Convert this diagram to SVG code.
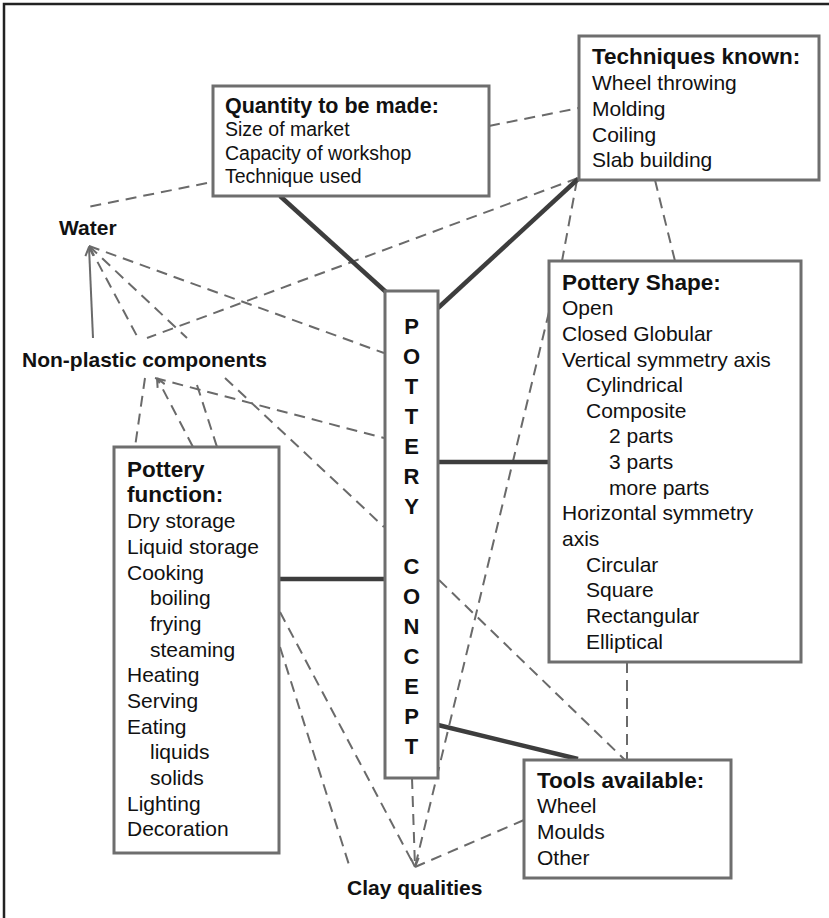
<svg xmlns="http://www.w3.org/2000/svg" width="829" height="918" viewBox="0 0 829 918">
<style>
text{font-family:"Liberation Sans",Arial,sans-serif;fill:#111}
.t{font-weight:bold;font-size:22.5px}
.i{font-size:21px}
.q{font-size:19.5px}
.lb{font-weight:bold;font-size:21px}
.c{font-weight:bold;font-size:22px;text-anchor:middle}
.box{fill:#fff;stroke:#6e6e6e;stroke-width:3}
.d{stroke:#6a6a6a;stroke-width:2;stroke-dasharray:11 7;fill:none}
.s{stroke:#6a6a6a;stroke-width:2;fill:none}
.k{stroke:#3d3d3d;stroke-width:4.5;fill:none}
</style>
<defs>
<marker id="ar" viewBox="0 0 10 10" refX="10" refY="5" markerWidth="10" markerHeight="10" markerUnits="userSpaceOnUse" orient="auto">
<path d="M1,1 L10,5 L1,9" fill="none" stroke="#6a6a6a" stroke-width="2"/>
</marker>
</defs>
<rect x="0" y="0" width="829" height="918" fill="#fff"/>
<rect x="4" y="4" width="840" height="930" fill="none" stroke="#222" stroke-width="2.5"/>
<g id="connectors">
<line class="d" x1="207" y1="183" x2="88" y2="207"/>
<line class="d" x1="489" y1="126" x2="579" y2="108"/>
<line class="d" x1="578" y1="178" x2="147" y2="338"/>
<line class="d" x1="577" y1="180" x2="562" y2="261"/>
<line class="d" x1="655" y1="180" x2="675" y2="261"/>
<line class="d" x1="549" y1="312" x2="415" y2="867"/>
<line class="d" x1="89" y1="246" x2="138" y2="338"/>
<line class="d" x1="193" y1="447" x2="157" y2="378" marker-end="url(#ar)"/>
<line class="d" x1="89" y1="246" x2="187" y2="338"/>
<line class="d" x1="225" y1="378" x2="384" y2="527"/>
<line class="d" x1="89" y1="246" x2="384" y2="353"/>
<line class="d" x1="145" y1="378" x2="135" y2="447"/>
<line class="d" x1="155" y1="378" x2="384" y2="438"/>
<line class="d" x1="197" y1="385" x2="217" y2="447"/>
<line class="d" x1="439" y1="580" x2="625" y2="760"/>
<line class="d" x1="627" y1="662" x2="627" y2="760"/>
<line class="d" x1="524" y1="820" x2="415" y2="867"/>
<line class="d" x1="412" y1="778" x2="415" y2="867" marker-end="url(#ar)"/>
<line class="d" x1="280" y1="612" x2="415" y2="867"/>
<line class="d" x1="280" y1="647" x2="350" y2="868"/>
<line class="s" x1="93" y1="338" x2="89" y2="247" marker-end="url(#ar)"/>
<line class="k" x1="280" y1="196" x2="386" y2="292"/>
<line class="k" x1="578" y1="179" x2="438" y2="308"/>
<line class="k" x1="438" y1="462" x2="549" y2="462"/>
<line class="k" x1="279" y1="579" x2="385" y2="579"/>
<line class="k" x1="438" y1="725" x2="578" y2="759"/>
</g>
<g id="quantity">
<rect class="box" x="213" y="86" width="276" height="110"/>
<text class="t" x="225" y="113" style="font-size:21.5px">Quantity to be made:</text>
<text class="q" x="225" y="136">Size of market</text>
<text class="q" x="225" y="160">Capacity of workshop</text>
<text class="q" x="225" y="183">Technique used</text>
</g>
<g id="techniques">
<rect class="box" x="579" y="36" width="240" height="144"/>
<text class="t" x="592" y="64">Techniques known:</text>
<text class="i" x="592" y="90">Wheel throwing</text>
<text class="i" x="592" y="116">Molding</text>
<text class="i" x="592" y="142">Coiling</text>
<text class="i" x="592" y="167">Slab building</text>
</g>
<g id="shape">
<rect class="box" x="549" y="261" width="252" height="401"/>
<text class="t" x="562" y="290">Pottery Shape:</text>
<text class="i" x="562" y="315">Open</text>
<text class="i" x="562" y="341">Closed Globular</text>
<text class="i" x="562" y="367">Vertical symmetry axis</text>
<text class="i" x="586" y="392">Cylindrical</text>
<text class="i" x="586" y="418">Composite</text>
<text class="i" x="609" y="443">2 parts</text>
<text class="i" x="609" y="469">3 parts</text>
<text class="i" x="609" y="495">more parts</text>
<text class="i" x="562" y="520">Horizontal symmetry</text>
<text class="i" x="562" y="546">axis</text>
<text class="i" x="586" y="572">Circular</text>
<text class="i" x="586" y="597">Square</text>
<text class="i" x="586" y="623">Rectangular</text>
<text class="i" x="586" y="649">Elliptical</text>
</g>
<g id="concept">
<rect class="box" x="385" y="291" width="53" height="487"/>
<text class="c" x="411.5" y="334">P</text>
<text class="c" x="411.5" y="364">O</text>
<text class="c" x="411.5" y="394">T</text>
<text class="c" x="411.5" y="424">T</text>
<text class="c" x="411.5" y="454">E</text>
<text class="c" x="411.5" y="484">R</text>
<text class="c" x="411.5" y="514">Y</text>
<text class="c" x="411.5" y="574">C</text>
<text class="c" x="411.5" y="604">O</text>
<text class="c" x="411.5" y="634">N</text>
<text class="c" x="411.5" y="664">C</text>
<text class="c" x="411.5" y="694">E</text>
<text class="c" x="411.5" y="724">P</text>
<text class="c" x="411.5" y="754">T</text>
</g>
<g id="function">
<rect class="box" x="114" y="447" width="165" height="406"/>
<text class="t" x="127" y="477">Pottery</text>
<text class="t" x="127" y="502">function:</text>
<text class="i" x="127" y="528">Dry storage</text>
<text class="i" x="127" y="554">Liquid storage</text>
<text class="i" x="127" y="580">Cooking</text>
<text class="i" x="150" y="605">boiling</text>
<text class="i" x="150" y="631">frying</text>
<text class="i" x="150" y="657">steaming</text>
<text class="i" x="127" y="682">Heating</text>
<text class="i" x="127" y="708">Serving</text>
<text class="i" x="127" y="734">Eating</text>
<text class="i" x="150" y="759">liquids</text>
<text class="i" x="150" y="785">solids</text>
<text class="i" x="127" y="811">Lighting</text>
<text class="i" x="127" y="836">Decoration</text>
</g>
<g id="tools">
<rect class="box" x="524" y="760" width="207" height="118"/>
<text class="t" x="537" y="788">Tools available:</text>
<text class="i" x="537" y="813">Wheel</text>
<text class="i" x="537" y="839">Moulds</text>
<text class="i" x="537" y="865">Other</text>
</g>
<g id="water"><text class="lb" x="59" y="235">Water</text></g>
<g id="nonplastic"><text class="lb" x="22" y="367">Non-plastic components</text></g>
<g id="clay"><text class="lb" x="347" y="895">Clay qualities</text></g>
</svg>
